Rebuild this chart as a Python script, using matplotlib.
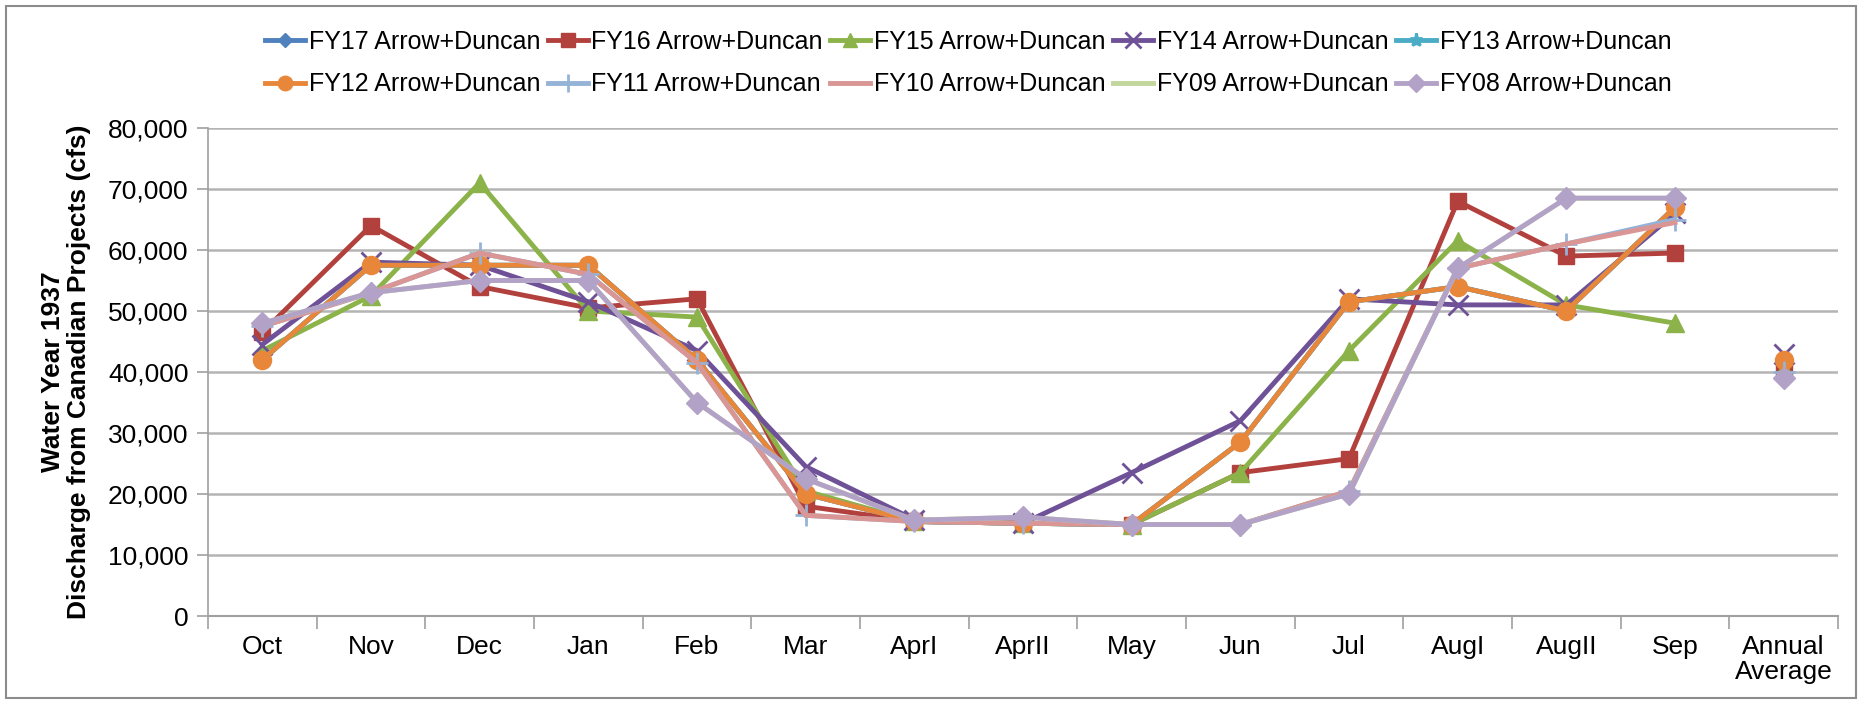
import numpy as np
import matplotlib.pyplot as plt
from matplotlib.patches import Rectangle
from matplotlib.ticker import FuncFormatter, FixedLocator

plt.rcParams['font.family'] = ['Liberation Sans Narrow', 'Liberation Sans', 'DejaVu Sans']

# categories
months = ["Oct", "Nov", "Dec", "Jan", "Feb", "Mar", "AprI", "AprII",
          "May", "Jun", "Jul", "AugI", "AugII", "Sep"]
xlabels = months + ["Annual\nAverage"]

# monthly values (cfs)
fy17 = [42000, 57500, 57500, 57500, 42000, 20000, 15500, 15200, 15000, 28500, 51500, 54000, 50000, 67000]
fy16 = [46500, 64000, 54000, 50500, 52000, 18000, 15500, 15200, 15000, 23500, 25800, 68000, 59000, 59500]
fy15 = [43500, 52500, 71000, 50000, 49000, 20500, 15500, 15200, 15000, 23500, 43500, 61500, 51000, 48000]
fy14 = [44500, 58000, 57500, 51500, 43500, 24500, 15800, 15200, 23500, 32000, 52000, 51000, 51000, 66000]
fy13 = [42000, 57500, 57500, 57500, 42000, 20000, 15500, 15200, 15000, 28500, 51500, 54000, 50000, 67000]
fy12 = [42000, 57500, 57500, 57500, 42000, 20000, 15500, 15200, 15000, 28500, 51500, 54000, 50000, 67000]
fy11 = [47500, 53000, 59500, 56000, 41500, 16500, 15500, 15200, 15000, 15000, 20500, 57000, 61000, 65000]
fy10 = [47500, 53000, 59500, 56000, 41500, 16500, 15500, 15200, 15000, 15000, 20500, 57000, 61000, 64500]
fy09 = [48000, 53000, 55000, 55000, 35000, 22500, 15700, 16200, 15000, 15000, 20000, 57000, 68500, 68500]
fy08 = [48000, 53000, 55000, 55000, 35000, 22500, 15700, 16200, 15000, 15000, 20000, 57000, 68500, 68500]

# annual averages
annual = [42000, 40500, 40500, 43000, 42000, 42000, 40000, 40000, 39000, 39000]

names = ["FY17 Arrow+Duncan", "FY16 Arrow+Duncan", "FY15 Arrow+Duncan", "FY14 Arrow+Duncan",
         "FY13 Arrow+Duncan", "FY12 Arrow+Duncan", "FY11 Arrow+Duncan", "FY10 Arrow+Duncan",
         "FY09 Arrow+Duncan", "FY08 Arrow+Duncan"]
series = [fy17, fy16, fy15, fy14, fy13, fy12, fy11, fy10, fy09, fy08]

colors = ["#4F81BD", "#B2413E", "#8CB34A", "#6F5197", "#4BACC6",
          "#E8873A", "#95B3D7", "#D99694", "#C3D69B", "#B3A2C7"]
markers = ["D", "s", "^", "x", "*", "o", "+", None, None, "D"]
msizes = [9, 12, 13, 14, 12, 13, 16, 0, 0, 11]

fig = plt.figure(figsize=(18.62, 7.04), dpi=100)
ax = fig.add_axes([208 / 1862, 1 - 616 / 704, (1838 - 208) / 1862, (616 - 128) / 704])

x = np.arange(len(months))
for s, ann, name, c, m, ms in zip(series, annual, names, colors, markers, msizes):
    mew = 2 if m in ("x", "+", "*") else 1
    ax.plot(x, s, color=c, lw=3.5, marker=m, ms=ms, mew=mew, mec=c, mfc=c,
            label=name, solid_joinstyle="miter")
    ax.plot([len(months)], [ann], color=c, lw=0, marker=m, ms=ms, mew=mew, mec=c, mfc=c)

ax.set_xlim(-0.5, len(xlabels) - 0.5)
ax.set_ylim(0, 80000)
ax.set_yticks(np.arange(0, 80001, 10000))
ax.yaxis.set_major_formatter(FuncFormatter(lambda v, p: f"{int(v):,}"))
ax.set_xticks(np.arange(len(xlabels)))
ax.set_xticklabels(xlabels, fontsize=19, linespacing=1.05)
ax.xaxis.set_minor_locator(FixedLocator(np.arange(-0.5, len(xlabels), 1)))
ax.tick_params(axis="x", which="major", length=0, pad=14)
ax.tick_params(axis="x", which="minor", length=9, color="#A0A0A0", width=1.2)
ax.tick_params(axis="y", length=8, color="#A0A0A0", width=1.2, labelsize=19, pad=6)
ax.grid(axis="y", color="#B4B4B4", lw=1.8)
ax.set_axisbelow(True)
for sp in ["top", "right"]:
    ax.spines[sp].set_visible(False)
ax.spines["left"].set_color("#A0A0A0")
ax.spines["bottom"].set_color("#A0A0A0")
ax.spines["left"].set_linewidth(1.2)
ax.spines["bottom"].set_linewidth(1.5)

ax.set_ylabel("Water Year 1937\nDischarge from Canadian Projects (cfs)",
              fontsize=19, fontweight="bold", family=["Liberation Sans", "DejaVu Sans"],
              linespacing=1.1, labelpad=12)

# legend filled row by row, like the original
handles, labels = ax.get_legend_handles_labels()
order = [0, 5, 1, 6, 2, 7, 3, 8, 4, 9]
fig.legend([handles[i] for i in order], [labels[i] for i in order],
           loc="upper center", bbox_to_anchor=(0.52, 0.99), ncol=5,
           frameon=False, fontsize=18, handlelength=1.6, handletextpad=0.15,
           columnspacing=0.3, labelspacing=0.75, markerscale=0.8)

fig.patches.append(Rectangle((6 / 1862, 6 / 704), 1 - 12 / 1862, 1 - 12 / 704,
                             transform=fig.transFigure, fill=False,
                             edgecolor="#8C8C8C", lw=1.5))

fig.savefig("out.png", dpi=100)
